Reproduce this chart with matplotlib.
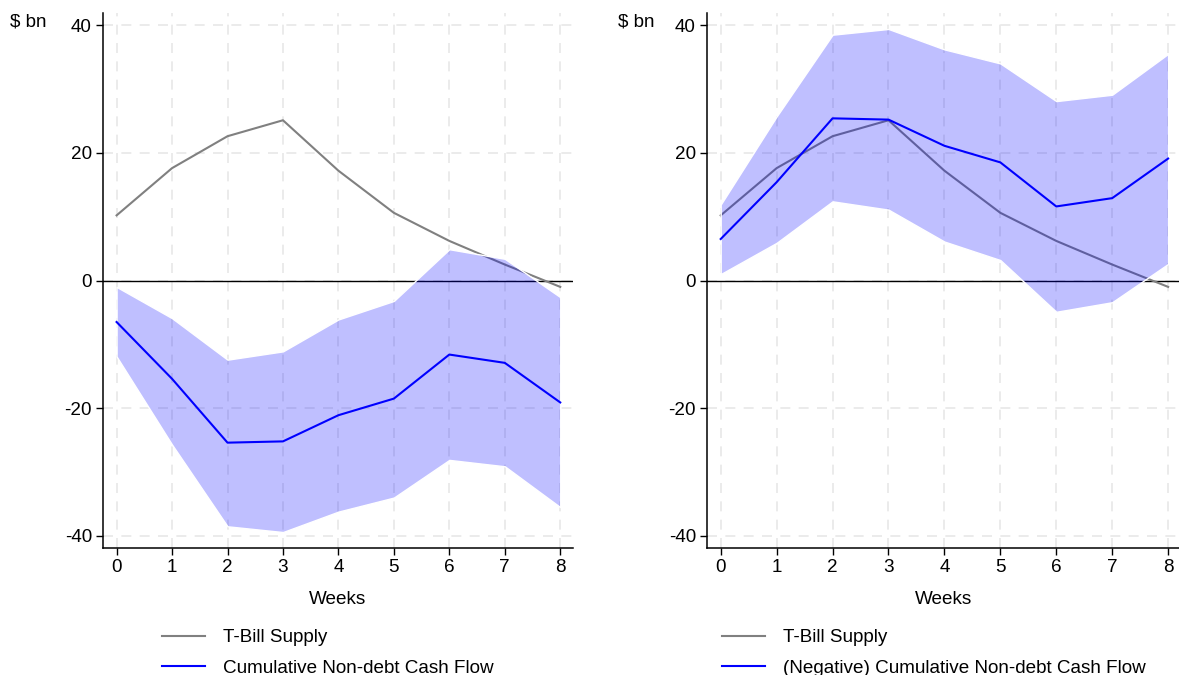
import matplotlib
matplotlib.use("Agg")
import matplotlib.pyplot as plt
from matplotlib.lines import Line2D

plt.rcParams["font.family"] = ["Liberation Sans", "DejaVu Sans"]
plt.rcParams["axes.unicode_minus"] = False

weeks = [0, 1, 2, 3, 4, 5, 6, 7, 8]
tbill_supply = [10.2, 17.6, 22.6, 25.1, 17.2, 10.6, 6.2, 2.5, -1.0]
# Cumulative non-debt cash flow with its confidence band
cash_flow = [-6.5, -15.4, -25.4, -25.2, -21.1, -18.5, -11.6, -12.9, -19.1]
cash_flow_lo = [-11.9, -25.7, -38.5, -39.4, -36.2, -34.0, -28.1, -29.1, -35.5]
cash_flow_hi = [-1.0, -5.9, -12.4, -11.1, -6.1, -3.2, 4.9, 3.4, -2.6]

yticks = [-40, -20, 0, 20, 40]
legend_labels_left = ["T-Bill Supply", "Cumulative Non-debt Cash Flow"]
legend_labels_right = ["T-Bill Supply", "(Negative) Cumulative Non-debt Cash Flow"]

W, H = 1179, 675
FS = 13.6
fig = plt.figure(figsize=(W / 100, H / 100), dpi=100)

GRAY = "#808080"
BLUE = "#0000ff"
BAND = (0.0, 0.0, 1.0, 0.25)


def panel(ax_left_px, width_px, line, lo, hi, labels, legend_x_px, unit_x_px):
    ax = fig.add_axes([ax_left_px / W, 127 / H, width_px / W, 535 / H])
    ax.set_xlim(-0.245, 8.23)
    ax.set_ylim(-41.9, 41.9)
    ax.set_xticks(weeks)
    ax.set_yticks(yticks)
    ax.grid(True, color="#e8e8e8", linestyle=(0, (6, 5)), linewidth=1.2, zorder=0)
    ax.set_axisbelow(True)
    for s in ("top", "right"):
        ax.spines[s].set_visible(False)
    for s in ("left", "bottom"):
        ax.spines[s].set_linewidth(1.1)
    ax.tick_params(direction="out", length=5, width=1, labelsize=FS, pad=3)
    ax.axhline(0, color="black", linewidth=1.0, zorder=2)
    ax.plot(weeks, tbill_supply, color=GRAY, linewidth=1.5, zorder=3)
    ax.fill_between(weeks, lo, hi, facecolor=BAND, edgecolor="white",
                    linewidth=1.0, zorder=4)
    ax.plot(weeks, line, color=BLUE, linewidth=1.5, zorder=5)
    ax.set_xlabel("Weeks", fontsize=FS, labelpad=11)
    fig.text(unit_x_px / W, 1 - 22 / H, "$ bn", fontsize=FS,
             ha="left", va="center")
    handles = [Line2D([], [], color=GRAY, linewidth=1.5),
               Line2D([], [], color=BLUE, linewidth=1.5)]
    fig.legend(handles, labels, loc="upper left",
               bbox_to_anchor=(legend_x_px / W, 1 - 629 / H),
               frameon=False, fontsize=FS, handlelength=2.3,
               handletextpad=0.95, labelspacing=0.72, borderpad=0,
               borderaxespad=0)
    return ax


panel(103, 470, cash_flow, cash_flow_lo, cash_flow_hi, legend_labels_left,
      162, 10)
panel(707, 474, [-v for v in cash_flow], [-v for v in cash_flow_hi],
      [-v for v in cash_flow_lo], legend_labels_right, 722, 618)

fig.savefig("out.png", dpi=100)
